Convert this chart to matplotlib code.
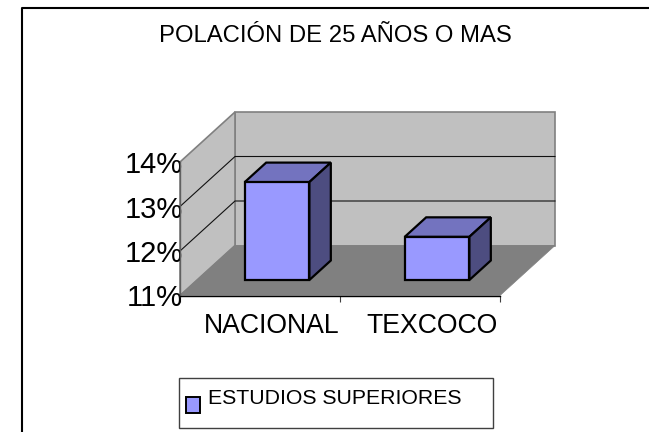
import matplotlib
matplotlib.use("Agg")
import matplotlib.pyplot as plt
from matplotlib.lines import Line2D
from matplotlib.patches import Patch

plt.rcParams["font.family"] = ["Liberation Sans", "DejaVu Sans"]

title = "POLACIÓN DE 25 AÑOS O MAS"
categories = ["NACIONAL", "TEXCOCO"]
values = [13.2, 11.97]
y_ticks = [11, 12, 13, 14]
y_labels = ["11%", "12%", "13%", "14%"]
legend_label = "ESTUDIOS SUPERIORES"

W, H = 649, 432
# oblique depth: how far the back of the box shifts, in data units
DEPTH_X = 55 / 160
DEPTH_Y = 50 / 44.5
BAR_W = 0.404
BAR_Z = (0.31, 0.70)


def proj(x, y, z):
    return x + z * DEPTH_X, y + z * DEPTH_Y


def face(ax, pts, color, edge, lw, zorder=1):
    xs = [proj(*p)[0] for p in pts]
    ys = [proj(*p)[1] for p in pts]
    ax.fill(xs, ys, facecolor=color, edgecolor=edge, linewidth=lw,
            clip_on=False, zorder=zorder, joinstyle="miter")


fig = plt.figure(figsize=(W / 100, H / 100), dpi=100)
ax = fig.add_axes([180 / W, (H - 295.5) / H, 320 / W, 133.5 / H])
ax.set_xlim(0, 2)
ax.set_ylim(11, 14)
ax.patch.set_visible(False)

# walls and floor
ymin, ymax = y_ticks[0], y_ticks[-1]
face(ax, [(0, ymin, 1), (2, ymin, 1), (2, ymax, 1), (0, ymax, 1)], "#c0c0c0", "#808080", 1.2)
face(ax, [(0, ymin, 0), (0, ymin, 1), (0, ymax, 1), (0, ymax, 0)], "#c0c0c0", "#808080", 1.2)
face(ax, [(0, ymin, 0), (2, ymin, 0), (2, ymin, 1), (0, ymin, 1)], "#808080", "#808080", 0.5, zorder=1.2)

# gridlines run along the left wall and the back wall
for t in y_ticks[1:-1]:
    xs, ys = zip(proj(0, t, 0), proj(0, t, 1), proj(2, t, 1))
    ax.plot(xs, ys, color="#111111", lw=0.8, clip_on=False, zorder=1.1)

# bars
for i, v in enumerate(values):
    x0 = i + 0.5 - BAR_W / 2
    x1 = x0 + BAR_W
    z0, z1 = BAR_Z
    face(ax, [(x0, v, z0), (x1, v, z0), (x1, v, z1), (x0, v, z1)], "#7373bf", "black", 1.6, 2)
    face(ax, [(x1, ymin, z0), (x1, ymin, z1), (x1, v, z1), (x1, v, z0)], "#4d4d80", "black", 1.6, 2)
    face(ax, [(x0, ymin, z0), (x1, ymin, z0), (x1, v, z0), (x0, v, z0)], "#9999ff", "black", 1.6, 2)

for s in ["top", "right"]:
    ax.spines[s].set_visible(False)
ax.spines["left"].set_color("#606060")
ax.spines["left"].set_linewidth(1.0)
ax.spines["bottom"].set_color("black")
ax.spines["bottom"].set_linewidth(1.0)
ax.spines["left"].set_zorder(3)
ax.spines["bottom"].set_zorder(3)

ax.set_yticks(y_ticks)
ax.set_yticklabels(y_labels, fontsize=21)
ax.tick_params(axis="y", length=0, pad=-2)
ax.set_xticks([0, 1, 2])
ax.set_xticklabels([])
ax.tick_params(axis="x", which="major", length=4.5, width=0.8, color="#404040")
ax.set_xticks([0.575, 1.575], minor=True)
ax.set_xticklabels(categories, minor=True, fontsize=19.2)
ax.tick_params(axis="x", which="minor", length=0, pad=12.5)

# title
fig.text(335 / W, (H - 35.5) / H, title, fontsize=17.2, ha="center", va="center")

# outer frame, open on the right and bottom
fig.add_artist(Line2D([22 / W, 22 / W, 1], [0, (H - 8) / H, (H - 8) / H], color="black", lw=1.5))

# legend
leg = fig.legend(handles=[Patch(facecolor="#9999ff", edgecolor="black", linewidth=1.4, label=legend_label)],
                 loc="lower left", bbox_to_anchor=(179 / W, (H - 428) / H, 314 / W, 50 / H),
                 mode="expand", fontsize=15.3, fancybox=False, framealpha=1, edgecolor="#404040",
                 borderaxespad=0, borderpad=0.72, handlelength=0.66, handleheight=0.8, handletextpad=0)
leg.get_frame().set_linewidth(1.0)
leg.get_patches()[0].set_x(-6)
leg.get_patches()[0].set_y(-3)
leg.get_texts()[0].set_y(4.5)

fig.savefig("out.png", dpi=100)
